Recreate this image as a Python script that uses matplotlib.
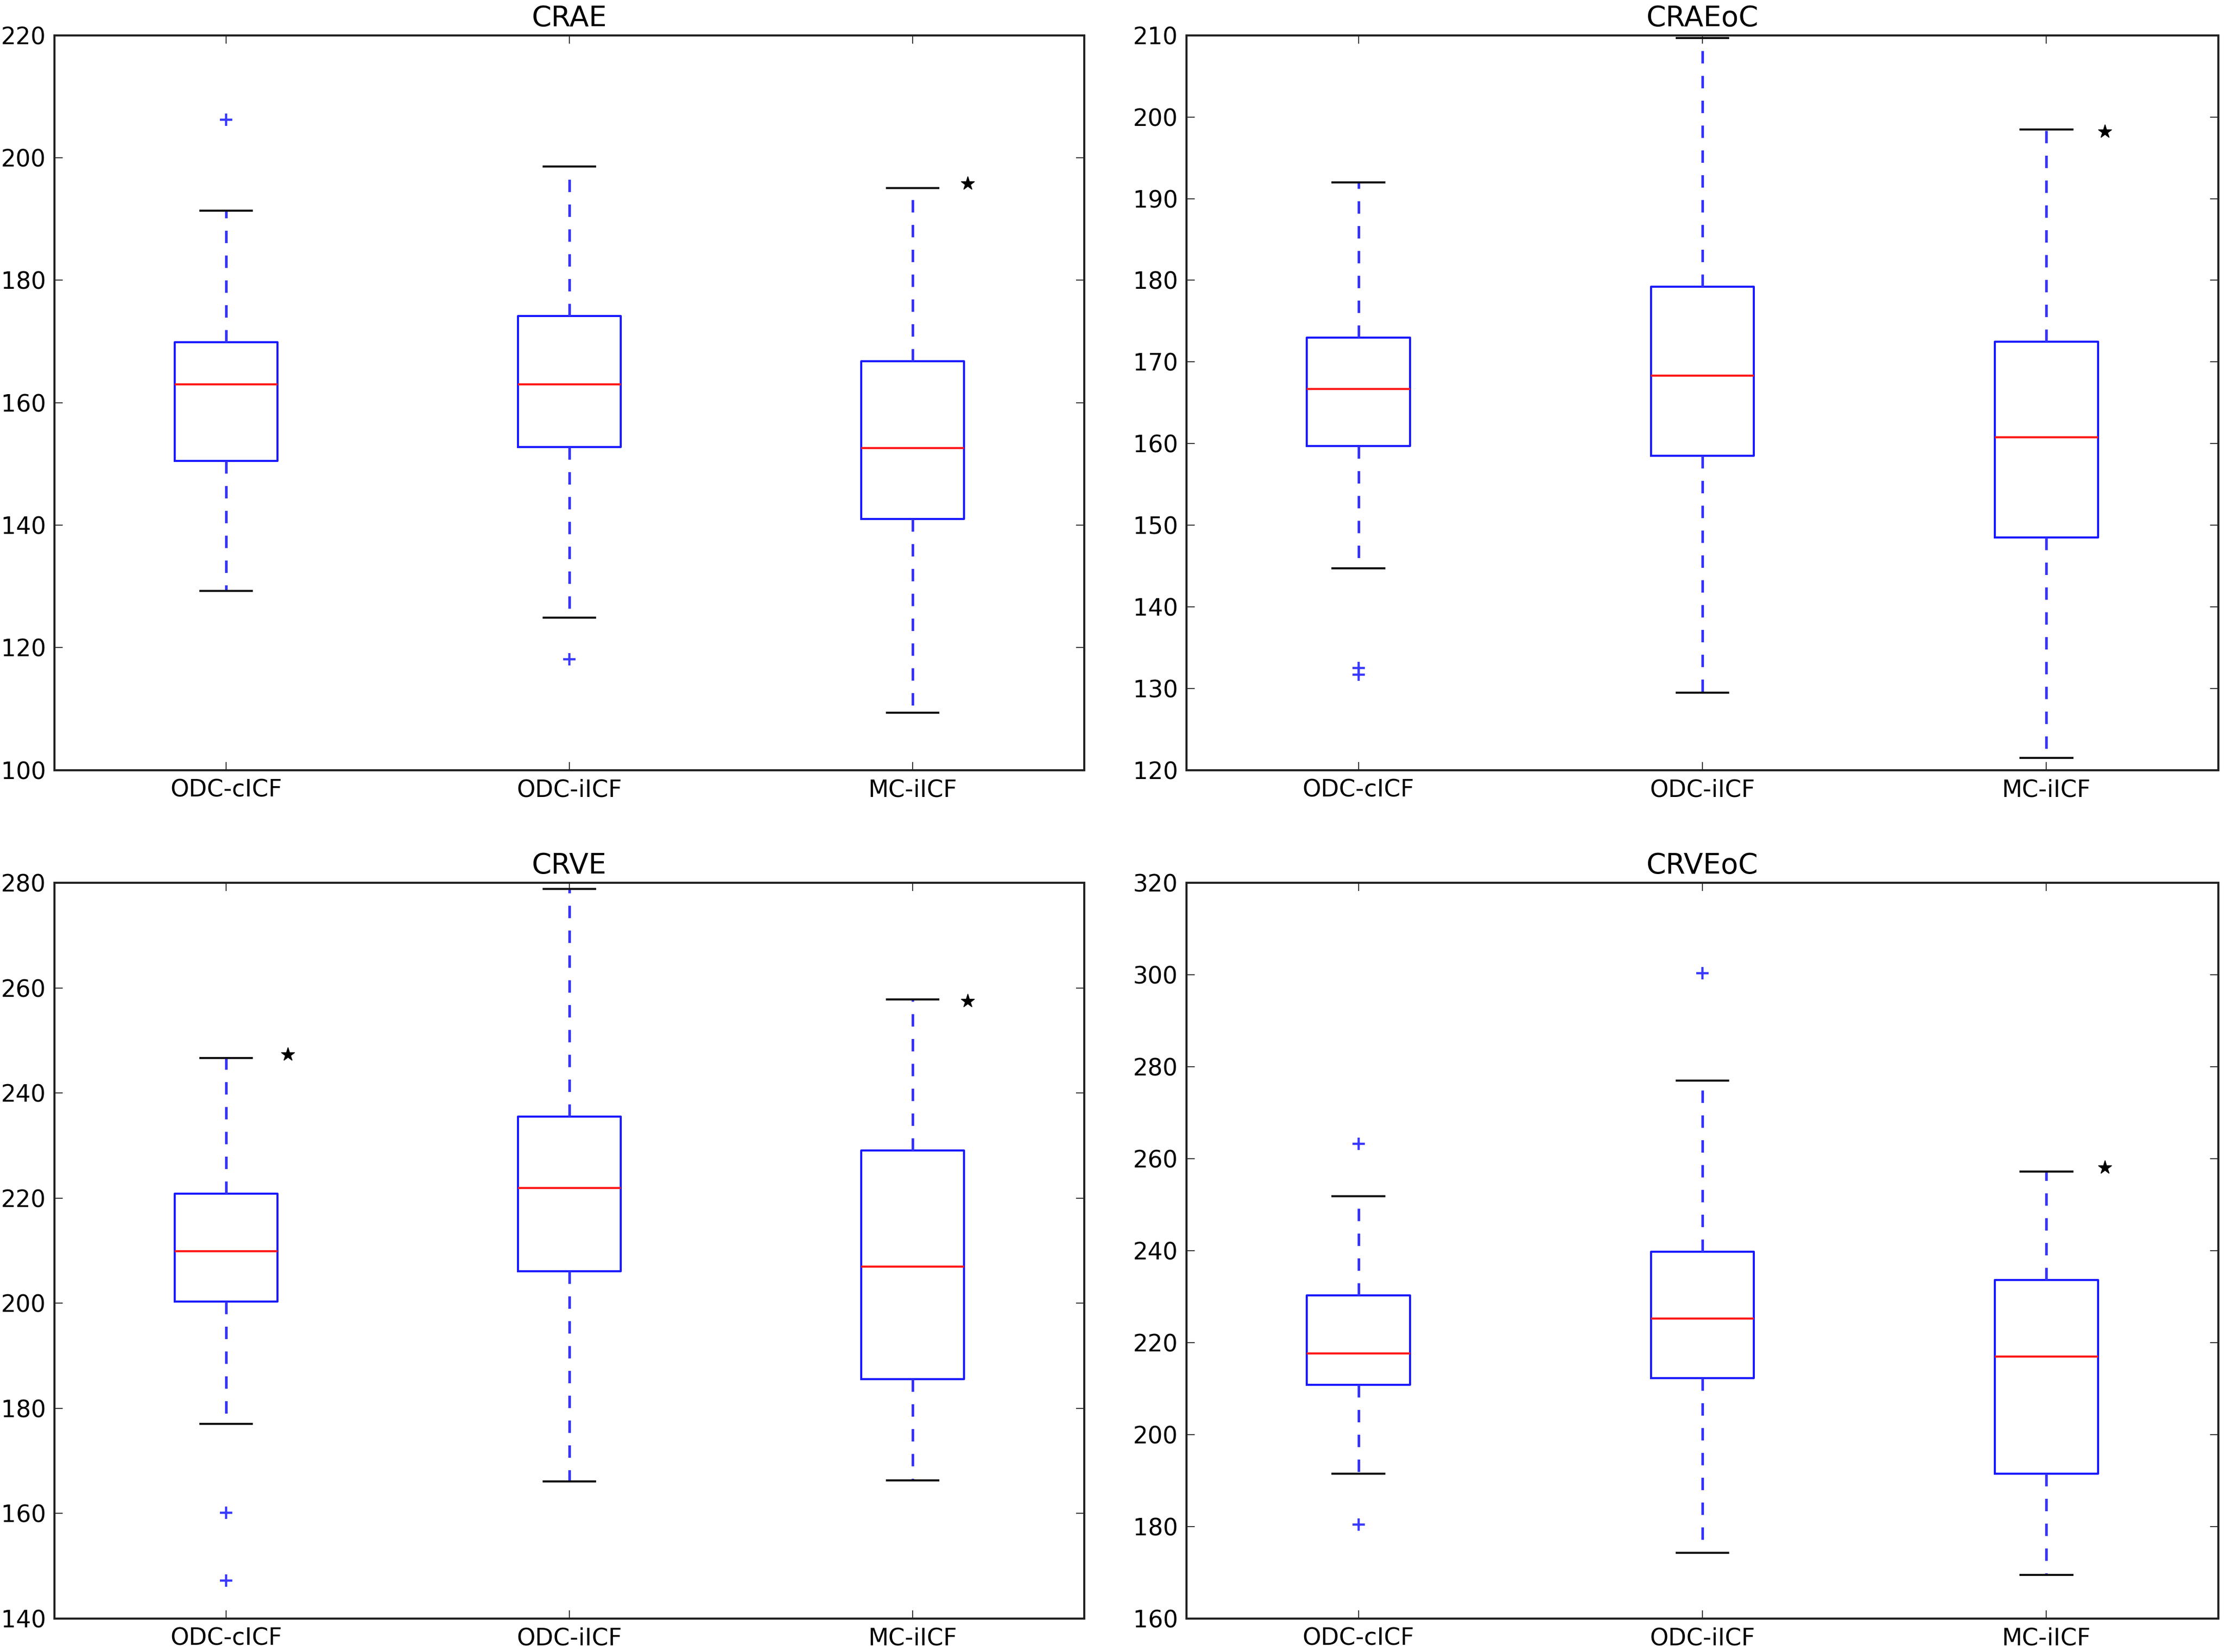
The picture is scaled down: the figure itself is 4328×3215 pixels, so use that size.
import matplotlib
matplotlib.use("Agg")
import matplotlib.pyplot as plt

# ---------------- data ----------------
categories = ['ODC-cICF', 'ODC-iICF', 'MC-iICF']
titles = ['CRAE', 'CRAEoC', 'CRVE', 'CRVEoC']

# per panel, per category
medians = [[163.0, 163.0, 152.6],
           [166.7, 168.3, 160.8],
           [209.9, 221.9, 207.0],
           [217.7, 225.3, 217.0]]
q1s = [[150.5, 152.8, 141.0],
       [159.7, 158.5, 148.5],
       [200.3, 206.1, 185.6],
       [210.8, 212.3, 191.5]]
q3s = [[169.9, 174.2, 166.8],
       [173.0, 179.2, 172.5],
       [220.9, 235.5, 229.1],
       [230.3, 239.8, 233.6]]
whis_lo = [[129.3, 124.9, 109.4],
           [144.7, 129.5, 121.5],
           [177.1, 166.1, 166.3],
           [191.5, 174.3, 169.5]]
whis_hi = [[191.4, 198.6, 195.1],
           [192.0, 209.7, 198.5],
           [246.7, 278.8, 257.8],
           [251.8, 277.0, 257.2]]
fliers = [[[206.2], [118.1], []],
          [[132.5, 131.7], [], []],
          [[160.1, 147.2], [], []],
          [[263.2, 180.4], [300.3], []]]

# significance stars (x in category units, y in data units)
star_x = [[3.16], [3.17], [1.18, 3.16], [3.17]]
star_y = [[195.8], [198.2], [247.4, 257.5], [258.1]]

ylims = [(100, 220), (120, 210), (140, 280), (160, 320)]
ysteps = [20, 10, 20, 20]

# ---------------- style ----------------
DPI = 100
fig = plt.figure(figsize=(4328 / DPI, 3215 / DPI), dpi=DPI)
plt.rcParams['font.family'] = ['DejaVu Sans']

LW = 2.9
WLW = 3.6
TICK_FS = 33
TITLE_FS = 39.6

rects = [
    [0.0245, 0.5338, 0.463, 0.4448],
    [0.5335, 0.5338, 0.464, 0.4448],
    [0.0245, 0.0202, 0.463, 0.4454],
    [0.5335, 0.0202, 0.464, 0.4454],
]

positions = [1, 2, 3]
dash = 17.4 / WLW

for i in range(4):
    ax = fig.add_axes(rects[i])
    stats = []
    for j in range(3):
        stats.append(dict(med=medians[i][j], q1=q1s[i][j], q3=q3s[i][j],
                          whislo=whis_lo[i][j], whishi=whis_hi[i][j],
                          fliers=fliers[i][j], label=categories[j]))
    ax.bxp(stats, positions=positions, widths=0.3, capwidths=0.15,
           showfliers=True,
           boxprops=dict(color='#1a1aff', linewidth=LW),
           whiskerprops=dict(color='#3333ff', linewidth=WLW,
                             linestyle=(0, (dash, dash))),
           capprops=dict(color='#111111', linewidth=LW),
           medianprops=dict(color='#ff1a1a', linewidth=LW),
           flierprops=dict(marker='+', markeredgecolor='#3a3aff',
                           markerfacecolor='none', markersize=17,
                           markeredgewidth=3.2, linestyle='none'))
    ax.plot(star_x[i], star_y[i], linestyle='none', marker='*',
            color='black', markersize=20)

    lo, hi = ylims[i]
    ax.set_ylim(lo, hi)
    ax.set_xlim(0.5, 3.5)
    ax.set_yticks(list(range(lo, hi + 1, ysteps[i])))
    ax.set_xticks(positions)
    ax.set_xticklabels(categories)
    ax.set_title(titles[i], fontsize=TITLE_FS, pad=13)
    ax.tick_params(axis='both', which='major', direction='in',
                   top=True, right=True, length=11.5, width=1.4,
                   labelsize=TICK_FS, pad=12, color='#333333')
    for sp in ax.spines.values():
        sp.set_linewidth(LW)
        sp.set_color('#222222')

fig.savefig('out.png', dpi=DPI, facecolor='white')
